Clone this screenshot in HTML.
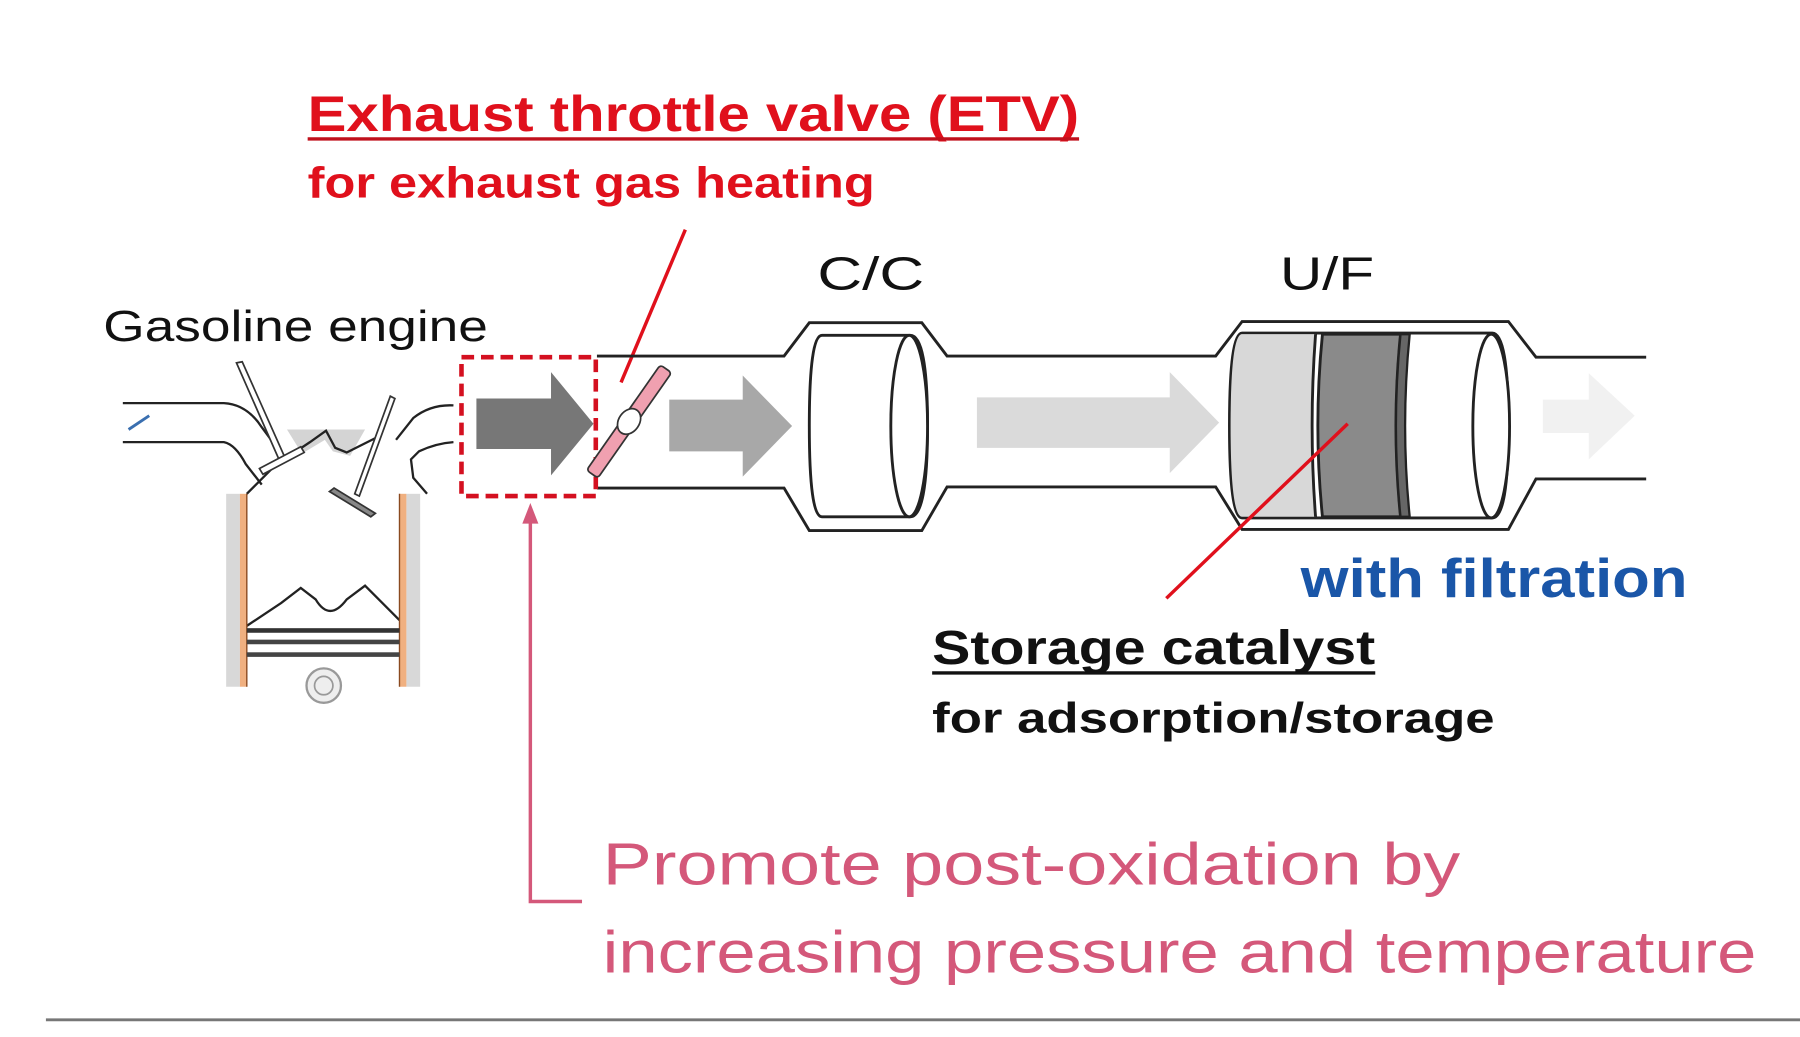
<!DOCTYPE html>
<html><head><meta charset="utf-8"><style>
html,body{margin:0;padding:0;background:#fff;}
svg{display:block;}
text{font-family:"Liberation Sans",sans-serif;}
</style></head><body>
<svg width="1800" height="1037" viewBox="0 0 1568 903" preserveAspectRatio="none" xmlns="http://www.w3.org/2000/svg">
<rect width="1568" height="903" fill="#fff"/>
<!-- titles -->
<text x="268" y="114" font-size="44" font-weight="bold" fill="#e0101c" textLength="672" lengthAdjust="spacingAndGlyphs">Exhaust throttle valve (ETV)</text>
<line x1="268" y1="121" x2="940" y2="121" stroke="#c0101c" stroke-width="3"/>
<text x="268" y="172" font-size="38" font-weight="bold" fill="#e0101c" textLength="494" lengthAdjust="spacingAndGlyphs">for exhaust gas heating</text>
<text x="90" y="297" font-size="38" fill="#111" textLength="335" lengthAdjust="spacingAndGlyphs">Gasoline engine</text>
<text x="712" y="252" font-size="40" fill="#111" textLength="93" lengthAdjust="spacingAndGlyphs">C/C</text>
<text x="1115" y="252" font-size="40" fill="#111" textLength="82" lengthAdjust="spacingAndGlyphs">U/F</text>
<!-- leader to ETV -->
<line x1="597" y1="200" x2="541" y2="333" stroke="#e0101c" stroke-width="3"/>
<!-- pipes -->
<g fill="none" stroke="#222" stroke-width="2.5">
<path d="M520 310 H683 L705 281 H803 L825 310 H1059 L1082 280 H1314 L1338 311 H1434"/>
<path d="M520 425 H683 L705 462 H803 L825 424 H1059 L1082 461 H1314 L1338 417 H1434"/>
</g>
<!-- C/C cylinder -->
<path d="M716 292 H793 Q808 292 808 371 Q808 450 793 450 H716 Q705 450 705 371 Q705 292 716 292 Z" fill="#fff" stroke="#222" stroke-width="2.5"/>
<ellipse cx="792" cy="371" rx="16" ry="79" fill="#fff" stroke="#222" stroke-width="2.5"/>
<!-- U/F cylinder -->
<path d="M1082 290 H1300 Q1314 290 1314 371 Q1314 451 1300 451 H1082 Q1071 451 1071 371 Q1071 290 1082 290 Z" fill="#fff" stroke="#222" stroke-width="2.5"/>
<path d="M1082 291 H1146 Q1140 371 1146 450 H1082 Q1072 450 1072 371 Q1072 291 1082 291 Z" fill="#d8d8d8"/>
<path d="M1152 291 H1220 Q1212 371 1220 450 H1152 Q1144 371 1152 291 Z" fill="#8a8a8a" stroke="#222" stroke-width="2.5"/>
<path d="M1220 291 H1228 Q1220 371 1228 450 H1220 Q1212 371 1220 291 Z" fill="#666" stroke="#222" stroke-width="2"/>
<path d="M1146 291 Q1140 371 1146 450" fill="none" stroke="#222" stroke-width="2.5"/>
<ellipse cx="1299" cy="371" rx="16" ry="80" fill="#fff" stroke="#222" stroke-width="2.5"/>
<!-- flow arrows -->
<polygon points="851,346 1019,346 1019,324 1062,368 1019,412 1019,390 851,390" fill="#dadada"/>
<polygon points="1344,348 1384,348 1384,325 1424,362 1384,400 1384,377 1344,377" fill="#f1f1f1"/>
<polygon points="583,348 647,348 647,327 690,371 647,415 647,393 583,393" fill="#a8a8a8"/>
<polygon points="415,347 480,347 480,324 517,369 480,414 480,391 415,391" fill="#777"/>
<!-- red dashed box -->
<rect x="402" y="311" width="117" height="121" fill="none" stroke="#d41020" stroke-width="4" stroke-dasharray="11 6"/>
<!-- valve -->
<g transform="translate(548,367) rotate(-55)">
<rect x="-56" y="-6" width="112" height="12" rx="3" fill="#f0a0b0" stroke="#333" stroke-width="1.5"/>
<ellipse cx="0" cy="0" rx="12" ry="9" fill="#fff" stroke="#333" stroke-width="1.5"/>
</g>
<!-- UF leader -->
<line x1="1174" y1="369" x2="1016" y2="521" stroke="#e0101c" stroke-width="3"/>
<text x="1133" y="520" font-size="48" font-weight="bold" fill="#1a56a8" textLength="337" lengthAdjust="spacingAndGlyphs">with filtration</text>
<text x="812" y="578" font-size="42" font-weight="bold" fill="#111" textLength="386" lengthAdjust="spacingAndGlyphs">Storage catalyst</text>
<line x1="812" y1="586" x2="1198" y2="586" stroke="#111" stroke-width="3"/>
<text x="812" y="638" font-size="37" font-weight="bold" fill="#111" textLength="490" lengthAdjust="spacingAndGlyphs">for adsorption/storage</text>
<!-- engine -->
<rect x="197" y="430" width="12" height="168" fill="#d8d8d8"/>
<rect x="354" y="430" width="12" height="168" fill="#d8d8d8"/>
<polygon points="250,374 318,374 305,397 290,393 283,383 263,395" fill="#d4d4d4"/>
<g fill="none" stroke="#222" stroke-width="2">
<path d="M107 351 H195 Q215 352 228 372 L245 395"/>
<path d="M107 385 H195 Q205 387 214 404 L228 422"/>
<path d="M395 353 Q375 352 360 364 L345 383"/>
<path d="M395 385 Q380 386 365 393 L358 400 L360 416 L372 430"/>
<path d="M215 430 L240 405 L270 385 L284 375 L292 390 L302 394 L330 380"/>
<path d="M215 545 L245 525 L262 512 L275 522 Q287 542 302 522 L318 510 L348 540"/>
</g>
<rect x="209" y="430" width="6" height="168" fill="#f0b080"/>
<rect x="348" y="430" width="6" height="168" fill="#f0b080"/>
<line x1="215" y1="430" x2="215" y2="598" stroke="#8a4a20" stroke-width="1.2"/>
<line x1="348" y1="430" x2="348" y2="598" stroke="#8a4a20" stroke-width="1.2"/>
<rect x="215" y="547" width="133" height="4" fill="#333"/>
<rect x="215" y="557" width="133" height="4" fill="#444"/>
<rect x="215" y="568" width="133" height="4" fill="#444"/>
<circle cx="282" cy="597" r="15" fill="#eee" stroke="#999" stroke-width="2"/>
<circle cx="282" cy="597" r="8" fill="none" stroke="#999" stroke-width="1.5"/>
<!-- valves -->
<g stroke="#333" stroke-width="1.5" fill="#fff">
<polygon points="206,316 211,315 248,398 243,400"/>
<polygon points="226,408 262,389 265,394 229,413"/>
<polygon points="340,345 344,347 313,432 309,430"/>
<polygon points="287,428 291,425 327,447 323,450" fill="#888"/>
</g>
<line x1="112" y1="374" x2="130" y2="362" stroke="#3a6fb0" stroke-width="2.5"/>
<!-- pink connector -->
<polyline points="462,455 462,785 507,785" fill="none" stroke="#d4587a" stroke-width="3"/>
<polygon points="462,438 455,456 469,456" fill="#d4587a"/>
<text x="525" y="770" font-size="52" fill="#d4587a" textLength="747" lengthAdjust="spacingAndGlyphs">Promote post-oxidation by</text>
<text x="525" y="847" font-size="52" fill="#d4587a" textLength="1005" lengthAdjust="spacingAndGlyphs">increasing pressure and temperature</text>
<line x1="40" y1="888" x2="1568" y2="888" stroke="#777" stroke-width="2.5"/>
</svg>
</body></html>
